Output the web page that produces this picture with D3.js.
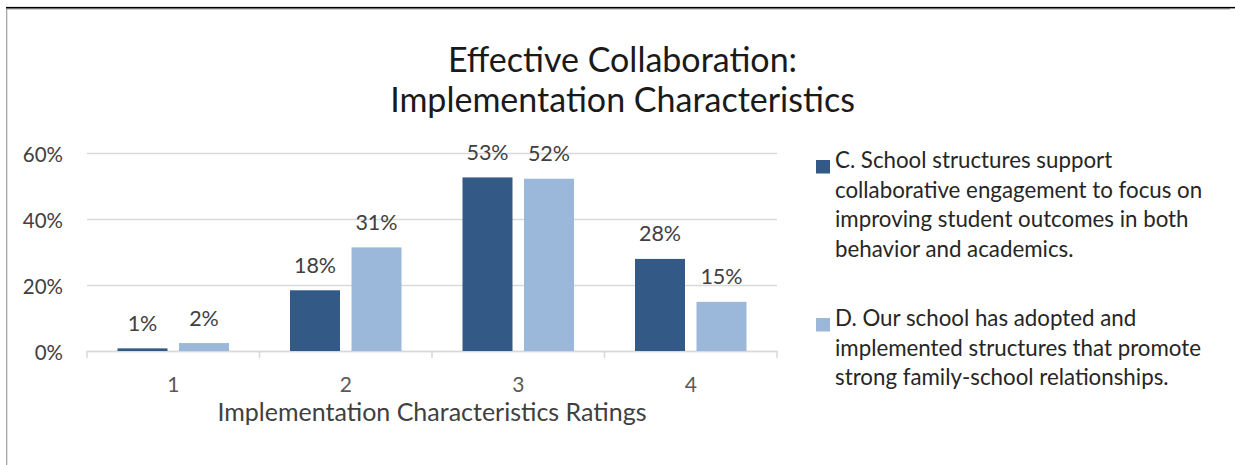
<!DOCTYPE html>
<html>
<head>
<meta charset="utf-8">
<script src="https://cdn.jsdelivr.net/npm/d3@7"></script>
<style>
  html, body { margin: 0; padding: 0; background: #fff; }
  svg { display: block; }
  text { font-family: Lato, "Open Sans", sans-serif; }
</style>
</head>
<body>
<svg id="chart" width="1235" height="465"></svg>
<script>
// ---- data ----
const categories = ["1", "2", "3", "4"];
const seriesNames = ["C", "D"];
const seriesC = [0.008, 0.184, 0.526, 0.279];
const seriesD = [0.024, 0.314, 0.522, 0.149];
const yTicks = [0, 0.2, 0.4, 0.6];
const legendC = ["C. School structures support", "collaborative engagement to focus on", "improving student outcomes in both", "behavior and academics."];
const legendD = ["D. Our school has adopted and", "implemented structures that promote", "strong family-school relationships."];
const titleLines = ["Effective Collaboration:", "Implementation Characteristics"];
const xTitle = "Implementation Characteristics Ratings";

const colors = { C: "#335a87", D: "#9bb7da" };
const series = [
  { key: "C", values: seriesC, legend: legendC },
  { key: "D", values: seriesD, legend: legendD }
];

const svg = d3.select("#chart");

// frame
svg.append("rect").attr("x", 6).attr("y", 8.2).attr("width", 1224).attr("height", 1.3).attr("fill", "#a6a6a6");
svg.append("rect").attr("x", 6).attr("y", 8.2).attr("width", 1.3).attr("height", 460).attr("fill", "#a6a6a6");
svg.append("rect").attr("x", 6).attr("y", 6.9).attr("width", 1229).attr("height", 1.5).attr("fill", "#000");

// title
svg.append("g").selectAll("text").data(titleLines).join("text")
  .attr("x", 622.5)
  .attr("y", (d, i) => 71.5 + i * 40)
  .attr("text-anchor", "middle")
  .attr("font-size", 34)
  .attr("fill", "#1a1a1a")
  .text(d => d);

// scales
const plot = { left: 87, right: 777, top: 153, bottom: 351 };
const x = d3.scaleBand().domain(categories).range([plot.left, plot.right]).paddingInner(0).paddingOuter(0);
const xs = d3.scaleBand().domain(seriesNames).range([0, x.bandwidth()]).paddingInner(0.187).paddingOuter(0.496);
const y = d3.scaleLinear().domain([0, 0.6]).range([plot.bottom, plot.top]);

// gridlines + y labels
const yAxis = svg.append("g")
  .attr("transform", `translate(${plot.left},0)`)
  .call(d3.axisLeft(y).tickValues(yTicks).tickFormat(d3.format(".0%")).tickSize(-(plot.right - plot.left)).tickPadding(24));
yAxis.select(".domain").remove();
yAxis.selectAll(".tick line").attr("stroke", "#d9d9d9").attr("stroke-width", 1.5);
yAxis.selectAll(".tick text")
  .attr("dy", "0.41em")
  .attr("font-size", 20.5)
  .attr("fill", "#404040")
  .style("font-family", "Lato, sans-serif");

// x axis
const xAxis = svg.append("g")
  .attr("transform", `translate(0,${plot.bottom})`)
  .call(d3.axisBottom(x).tickSize(0).tickPadding(0));
xAxis.select(".domain").attr("stroke", "#d9d9d9").attr("stroke-width", 1.5);
xAxis.selectAll(".tick text")
  .attr("y", 40.7).attr("dy", null)
  .attr("font-size", 21)
  .attr("fill", "#595959")
  .style("font-family", "Lato, sans-serif");
// category boundary tick marks
const bounds = categories.map(c => x(c)).concat([x.range()[1]]);
xAxis.append("g").selectAll("line").data(bounds).join("line")
  .attr("x1", d => d).attr("x2", d => d)
  .attr("y1", 0).attr("y2", 7)
  .attr("stroke", "#d9d9d9").attr("stroke-width", 1.5);

// bars
const groups = svg.append("g").selectAll("g").data(series).join("g")
  .attr("fill", d => colors[d.key]);
groups.selectAll("rect").data(s => s.values.map((v, i) => ({ key: s.key, cat: categories[i], v }))).join("rect")
  .attr("x", d => x(d.cat) + xs(d.key))
  .attr("width", xs.bandwidth())
  .attr("y", d => y(d.v))
  .attr("height", d => y(0) - y(d.v));

// data labels
groups.selectAll("text").data(s => s.values.map((v, i) => ({ key: s.key, cat: categories[i], v }))).join("text")
  .attr("x", d => x(d.cat) + xs(d.key) + xs.bandwidth() / 2)
  .attr("y", d => y(d.v) - 17.5)
  .attr("text-anchor", "middle")
  .attr("font-size", 21.5)
  .attr("fill", "#404040")
  .text(d => d3.format(".0%")(d.v));

// x title
svg.append("text")
  .attr("x", (plot.left + plot.right) / 2)
  .attr("y", 420.5)
  .attr("text-anchor", "middle")
  .attr("font-size", 25)
  .attr("fill", "#404040")
  .text(xTitle);

// legend
const legendTop = [160, 318];
const leg = svg.append("g").selectAll("g").data(series).join("g")
  .attr("transform", (d, i) => `translate(816,${legendTop[i]})`);
leg.append("rect").attr("width", 14).attr("height", 13.5).attr("fill", d => colors[d.key]);
leg.selectAll("text").data(d => d.legend).join("text")
  .attr("x", 19)
  .attr("y", (d, i) => 8 + i * 29.5)
  .attr("font-size", 22.3)
  .attr("fill", "#262626")
  .text(d => d);
</script>
</body>
</html>
